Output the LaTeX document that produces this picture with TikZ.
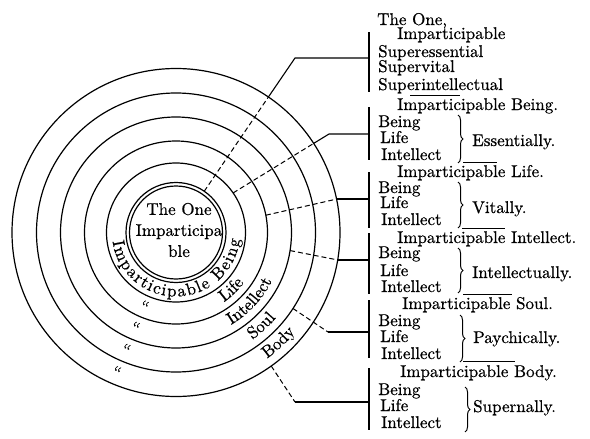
\documentclass[tikz,border=0pt]{standalone}
\usepackage{fontspec}
\setmainfont{lmroman10-regular.otf}[FakeBold=0.6]
\usetikzlibrary{decorations.text,decorations.pathreplacing,calc}
\newcommand{\ringfont}{\fontsize{17}{17}\selectfont}
\tikzset{
  ringline/.style={line width=1.2pt},
  conn/.style={line width=1.1pt},
  dsh/.style={line width=1pt, dash pattern=on 5pt off 3pt},
  barline/.style={line width=2pt},
  lbl/.style={anchor=base west, inner sep=0pt, font=\fontsize{17}{17}\selectfont},
  bracestyle/.style={line width=1pt, decorate, decoration={brace, amplitude=5pt}},
  uline/.style={line width=1pt},
  ditto/.style={inner sep=0pt, font=\fontsize{17}{17}\selectfont, rotate=-23},
  ringtext/.style={decorate, decoration={text along path, text format delimiters={|}{|}, text={|\ringfont|#1}, text align=center}},
  ringtextfit/.style={decorate, decoration={text along path, text format delimiters={|}{|}, text={|\ringfont|#1}, text align={fit to path}}}
}
\begin{document}
\begin{tikzpicture}[x=1pt,y=1pt]
\fill[white] (0,0) rectangle (590,-439);
\useasboundingbox (0,0) rectangle (590,-439);
\coordinate (O) at (176,-232.5);
% circles
\foreach \r in {164,139.5,115.5,91.5,69.5,50,46.5}
  \draw[ringline] (O) circle[radius=\r];
% center text
\node[align=center, inner sep=0pt, font=\fontsize{17}{21}\selectfont] (one) at (179,-230) {The One\\Imparticipa\\ble};
% ring labels
\path[ringtextfit={Imparticipable Being}] ([shift={(188:64)}]O) arc[start angle=188, end angle=354, radius=64];
\path[ringtext={Life}] ([shift={(269:84.5)}]O) arc[start angle=269, end angle=359, radius=84.5];
\path[ringtext={Intellect}] ([shift={(272:107.5)}]O) arc[start angle=272, end angle=362, radius=107.5];
\path[ringtext={Soul}] ([shift={(267.5:131.5)}]O) arc[start angle=267.5, end angle=357.5, radius=131.5];
\path[ringtext={Body}] ([shift={(268:155.5)}]O) arc[start angle=268, end angle=358, radius=155.5];
% ditto marks
\node[ditto] (q1) at ([shift={(247:80.5)}]O) {``};
\node[ditto] (q2) at ([shift={(247:103.5)}]O) {``};
\node[ditto] (q3) at ([shift={(247:127.5)}]O) {``};
\node[ditto] (q4) at ([shift={(247:151.75)}]O) {``};
% connector points
\coordinate (c1) at ([shift={(55.6:50)}]O);
\coordinate (x1) at (268.4,-97);
\coordinate (k1) at (295,-58);
\coordinate (e1) at (368,-58);
\coordinate (c2) at ([shift={(34.7:69.5)}]O);
\coordinate (x2) at (313.5,-143.5);
\coordinate (k2) at (329,-134);
\coordinate (e2) at (368,-134);
\coordinate (c3) at ([shift={(10.9:91.5)}]O);
\coordinate (k3) at (337,-199);
\coordinate (e3) at (368,-199);
\coordinate (c4) at ([shift={(-9:115.5)}]O);
\coordinate (k4) at (338,-260);
\coordinate (e4) at (368,-260);
\coordinate (c5) at ([shift={(-33:139.5)}]O);
\coordinate (k5) at (328,-332);
\coordinate (e5) at (368,-332);
\coordinate (c6) at ([shift={(-54.5:164)}]O);
\coordinate (k6) at (295,-402);
\coordinate (e6) at (368,-402);
% connectors
\draw[dsh] (c1) -- (x1);
\draw[conn] (x1) -- (k1) -- (e1);
\draw[dsh] (c2) -- (x2);
\draw[conn] (x2) -- (k2) -- (e2);
\draw[dsh] (c3) -- (k3);
\draw[conn] (k3) -- (e3);
\draw[dsh] (c4) -- (k4);
\draw[conn] (k4) -- (e4);
\draw[dsh] (c5) -- (k5);
\draw[conn] (k5) -- (e5);
\draw[dsh] (c6) -- (k6);
\draw[conn] (k6) -- (e6);
% bars
\draw[barline] (369,-32) -- (369,-92);
\draw[barline] (369,-107) -- (369,-160);
\draw[barline] (369,-172) -- (369,-228);
\draw[barline] (369,-233) -- (369,-294);
\draw[barline] (369,-300) -- (369,-358);
\draw[barline] (369,-368) -- (369,-430);
% group 1
\node[lbl] (t1a) at (377,-25) {The One,};
\node[lbl] (t1b) at (397,-39) {Imparticipable};
\node[lbl] (t1c) at (378,-57) {Superessential};
\node[lbl] (t1d) at (378,-72) {Supervital};
\node[lbl] (t1e) at (378,-90) {Superintellectual};
\draw[uline] (410,-95) -- (460,-95);
% group 2
\node[lbl] (t2h) at (397,-110) {Imparticipable Being.};
\node[lbl] (t2a) at (378,-127) {Being};
\node[lbl] (t2b) at (380,-143) {Life};
\node[lbl] (t2c) at (381,-160) {Intellect};
\draw[bracestyle] (458,-115) -- (458,-163);
\node[lbl] (t2e) at (472,-146) {Essentially.};
\draw[uline] (463,-162) -- (497,-162);
% group 3
\node[lbl] (t3h) at (397,-177) {Imparticipable Life.};
\node[lbl] (t3a) at (378,-193) {Being};
\node[lbl] (t3b) at (380,-208) {Life};
\node[lbl] (t3c) at (381,-225) {Intellect};
\draw[bracestyle] (458,-182) -- (458,-228);
\node[lbl] (t3e) at (472,-213) {Vitally.};
\draw[uline] (462,-228) -- (505,-228);
% group 4
\node[lbl] (t4h) at (397,-243) {Imparticipable Intellect.};
\node[lbl] (t4a) at (378,-258) {Being};
\node[lbl] (t4b) at (380,-276) {Life};
\node[lbl] (t4c) at (381,-292) {Intellect};
\draw[bracestyle] (458,-248) -- (458,-293);
\node[lbl] (t4e) at (472,-278) {Intellectually.};
\draw[uline] (463,-294) -- (512,-294);
% group 5
\node[lbl] (t5h) at (402,-309) {Imparticipable Soul.};
\node[lbl] (t5a) at (378,-326) {Being};
\node[lbl] (t5b) at (380,-342) {Life};
\node[lbl] (t5c) at (381,-359) {Intellect};
\draw[bracestyle] (460,-315) -- (460,-362);
\node[lbl] (t5e) at (473,-343) {Paychically.};
\draw[uline] (463,-361) -- (515,-361);
% group 6
\node[lbl] (t6h) at (400,-377) {Imparticipable Body.};
\node[lbl] (t6a) at (378,-395) {Being};
\node[lbl] (t6b) at (380,-411) {Life};
\node[lbl] (t6c) at (381,-428) {Intellect};
\draw[bracestyle] (465,-387) -- (465,-432);
\node[lbl] (t6e) at (473,-412) {Supernally.};
\end{tikzpicture}
\end{document}
